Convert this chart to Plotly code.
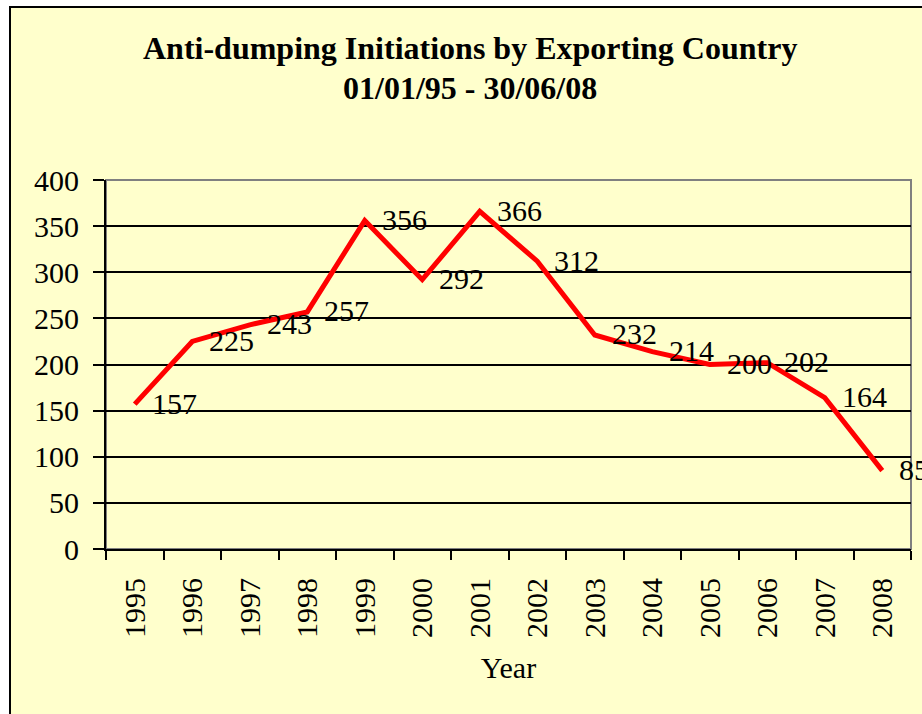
import plotly.graph_objects as go

years = ["1995", "1996", "1997", "1998", "1999", "2000", "2001",
         "2002", "2003", "2004", "2005", "2006", "2007", "2008"]
initiations = [157, 225, 243, 257, 356, 292, 366, 312, 232, 214, 200, 202, 164, 85]
y_ticks = [0, 50, 100, 150, 200, 250, 300, 350, 400]
title_lines = ["Anti-dumping Initiations by Exporting Country", "01/01/95 - 30/06/08"]

FONT = "Liberation Serif, Times New Roman, serif"
W, H = 922, 714
ML, MR, MT, MB = 106, 11, 180, 165
PW = W - ML - MR
PH = H - MT - MB


def px_x(X):
    return (X - ML) / PW


def px_y(Y):
    return (H - MB - Y) / PH


fig = go.Figure()
fig.add_trace(go.Scatter(
    x=list(range(len(years))), y=initiations, mode="lines",
    line=dict(color="#FF0000", width=5),
    hoverinfo="y", showlegend=False,
))

for i, v in enumerate(initiations):
    fig.add_annotation(x=i, y=v, text=str(v), showarrow=False,
                       xanchor="left", yanchor="middle", xshift=15, yshift=1,
                       font=dict(family=FONT, size=30, color="black"))

for line, ypix in zip(title_lines, [48, 88]):
    fig.add_annotation(xref="paper", yref="paper", x=px_x(470), y=px_y(ypix),
                       text="<b>%s</b>" % line, showarrow=False,
                       xanchor="center", yanchor="middle",
                       font=dict(family=FONT, size=32, color="black"))

shapes = []
# outer chart border (light yellow box)
shapes.append(dict(type="rect", xref="paper", yref="paper",
                   x0=px_x(10), x1=1.2, y0=-1.0, y1=px_y(7),
                   fillcolor="#FFFFCC", line=dict(color="black", width=2),
                   layer="below"))
# plot-area border in gray
shapes.append(dict(type="rect", xref="paper", yref="paper",
                   x0=0, x1=1, y0=0, y1=1,
                   line=dict(color="#808080", width=2), layer="below"))

fig.update_layout(
    width=W, height=H,
    margin=dict(l=ML, r=MR, t=MT, b=MB),
    paper_bgcolor="white",
    plot_bgcolor="rgba(0,0,0,0)",
    shapes=shapes,
    font=dict(family=FONT, size=30, color="black"),
    xaxis=dict(
        tickmode="array", tickvals=list(range(len(years))), ticktext=years,
        ticks="", tickangle=-90, ticklabelstandoff=15,
        showline=True, linecolor="black", linewidth=2,
        showgrid=False, zeroline=False,
        title=dict(text="Year", font=dict(family=FONT, size=30), standoff=20),
        tickfont=dict(family=FONT, size=30),
        range=[-0.5, len(years) - 0.5],
        minor=dict(tickmode="array", tickvals=[i - 0.5 for i in range(len(years) + 1)],
                   ticks="outside", ticklen=9, tickwidth=2, tickcolor="black",
                   showgrid=False),
    ),
    yaxis=dict(
        range=[0, 400], tickvals=y_ticks,
        ticks="outside", ticklen=11, tickwidth=2, tickcolor="black",
        ticklabelstandoff=8,
        showline=True, linecolor="black", linewidth=2,
        showgrid=True, gridcolor="black", gridwidth=1.5,
        zeroline=False, tickfont=dict(family=FONT, size=30),
    ),
)

fig.write_html(
    "out.html",
    config={"displayModeBar": False},
    post_script="document.body.style.margin='0';document.body.style.overflow='hidden';",
)
